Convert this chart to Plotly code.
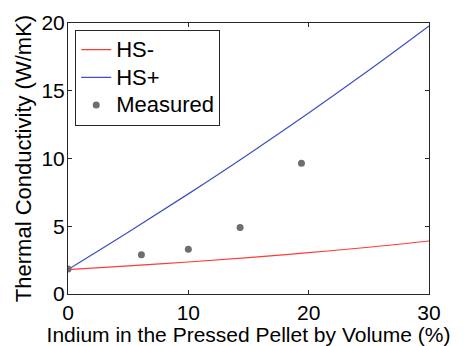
import plotly.graph_objects as go

# Data
x_curve = [0, 5, 10, 15, 20, 25, 30]
hs_minus = [1.80, 2.07, 2.36, 2.68, 3.05, 3.45, 3.91]
hs_plus = [1.80, 4.55, 7.39, 10.32, 13.36, 16.51, 19.78]
x_meas = [0, 6.1, 10.0, 14.3, 19.4]
y_meas = [1.85, 2.9, 3.3, 4.9, 9.65]
x_ticks = [0, 10, 20, 30]
y_ticks = [0, 5, 10, 15, 20]
series_names = ["HS-", "HS+", "Measured"]

font = "Liberation Sans, Arial, sans-serif"


def legend_name(s):
    return '<span style="font-size:22px">%s</span>' % s


fig = go.Figure()
fig.add_trace(go.Scatter(x=x_curve, y=hs_minus, mode="lines", name=legend_name(series_names[0]),
                         line=dict(color="#ff3a3a", width=1.2, shape="spline")))
fig.add_trace(go.Scatter(x=x_curve, y=hs_plus, mode="lines", name=legend_name(series_names[1]),
                         line=dict(color="#3f4fc0", width=1.2, shape="spline")))
fig.add_trace(go.Scatter(x=x_meas, y=y_meas, mode="markers", name=legend_name(series_names[2]),
                         marker=dict(color="#6e6e6e", size=7)))

axis_common = dict(showgrid=False, zeroline=False, showline=True, mirror="ticks",
                   linecolor="#262626", linewidth=1, ticks="inside", ticklen=4,
                   tickcolor="#262626", automargin=False,
                   tickfont=dict(size=21, color="#000000", family=font))

# the page body has an 8px default margin, so the figure is sized to fit the window
fig.update_layout(
    width=457, height=338,
    margin=dict(l=60, r=36, t=15, b=52),
    paper_bgcolor="white", plot_bgcolor="white",
    font=dict(family=font, color="#000000"),
    xaxis=dict(range=[0, 30], tickvals=x_ticks,
               title=dict(text="Indium in the Pressed Pellet by Volume (%)",
                          font=dict(size=21), standoff=2), **axis_common),
    yaxis=dict(range=[0, 20], tickvals=y_ticks, ticklabelstandoff=-2,
               title=dict(text="Thermal Conductivity (W/mK)",
                          font=dict(size=22), standoff=3), **axis_common),
    legend=dict(x=0.02, y=0.975, xanchor="left", yanchor="top",
                bgcolor="white", bordercolor="#262626", borderwidth=1,
                font=dict(size=19, family=font), tracegroupgap=0,
                itemwidth=30),
    showlegend=True,
)

fig.write_html("out.html")
